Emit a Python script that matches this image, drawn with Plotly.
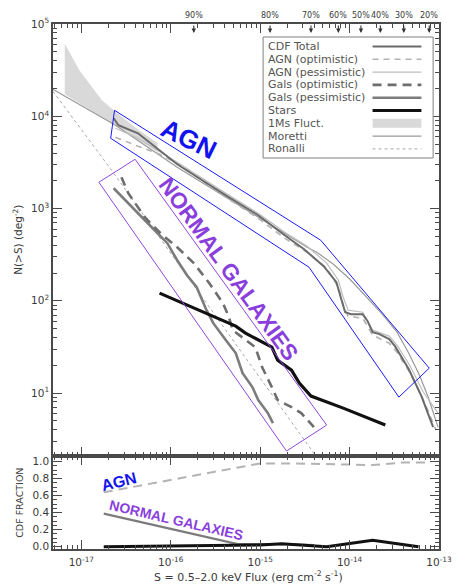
import math
import plotly.graph_objects as go

U = 1e-17  # flux arrays below are in units of 1e-17 erg cm^-2 s^-1

# ---------------- main panel: N(>S) (deg^-2) ----------------
fluct_upper_s = [0.652, 0.951, 1.32, 1.70, 2.30, 3.99, 7.12]
fluct_upper_n = [61000, 31500, 20600, 14900, 11600, 7600, 5100]
fluct_lower_s = [7.12, 2.30, 0.652]
fluct_lower_n = [4070, 8190, 17300]

moretti_s = [0.48, 2.41, 11.8, 41.4, 95.1, 188, 335, 430, 660, 1010, 1590, 2320, 3390, 4580, 6050, 7580, 9750]
moretti_n = [19600, 7990, 2800, 1325, 805, 540, 381, 336, 249, 171, 107, 71.6, 45.7, 27.1, 15.6, 9.0, 4.27]

ronalli_s = [0.482, 2.18, 11.8, 68.6, 188, 399, 453]
ronalli_n = [18660, 2600, 262, 24.5, 6.21, 2.23, 1.87]

cdf_total_s = [2.30, 2.60, 4.30, 11.8, 41.4, 95.1, 188, 310, 513, 712, 808, 893, 1040, 1400, 1590, 1810, 2150, 2770, 3220, 4580, 6360, 8600]
cdf_total_n = [9510, 7990, 6540, 3020, 1390, 846, 514, 362, 237, 159, 104, 75.2, 71.6, 71.6, 60.1, 45.7, 43.5, 38.4, 32.2, 18.2, 9.26, 4.27]

agn_opt_s = [2.41, 4.30, 7.12, 11.8, 41.4, 95.1, 188, 335, 554, 749, 849, 963, 1400, 1810, 2770, 3390, 4700, 6690, 9270]
agn_opt_n = [5920, 4730, 3970, 3100, 1325, 785, 477, 336, 226, 140, 89.6, 68.1, 64.8, 42.4, 34.7, 27.7, 16.8, 8.38, 3.96]

agn_pess_s = [2.41, 4.30, 7.12, 11.8, 41.4, 95.1, 188, 335, 554, 749, 849, 963, 1400, 1810, 2770, 3390, 4700, 6690, 9750]
agn_pess_n = [7410, 5780, 4280, 3170, 1465, 889, 553, 390, 256, 167, 109, 79.1, 75.2, 48.0, 41.4, 33.0, 20.0, 10.2, 6.06]

gals_opt_s = [2.81, 3.35, 5.13, 7.68, 11.8, 18.1, 27.0, 38.4, 44.7, 49.4, 88.2, 105, 135, 157, 224, 288, 399]
gals_opt_n = [2183, 1465, 805, 540, 381, 256, 155, 94.2, 66.4, 48.0, 31.4, 19.1, 11.6, 8.38, 7.03, 6.06, 4.27]

gals_pess_s = [2.30, 3.35, 4.64, 6.60, 9.16, 11.8, 15.2, 19.5, 25.1, 29.9, 41.4, 53.3, 63.6, 81.8, 95.1, 122, 139]
gals_pess_n = [1660, 1141, 805, 582, 421, 275, 189, 140, 79.1, 57.2, 37.4, 27.1, 16.4, 11.6, 8.38, 6.06, 4.72]

stars_s = [7.49, 12.7, 25.1, 53.3, 68.6, 135, 157, 224, 274, 370, 849, 2510]
stars_n = [121, 96.6, 73.4, 53.1, 44.6, 31.4, 22.7, 17.7, 12.8, 9.26, 6.86, 4.49]

# ---------------- lower panel: CDF fraction ----------------
frac_agn_s = [1.78, 100, 241, 1040, 1810, 3840, 8180]
frac_agn = [0.64, 0.98, 0.98, 0.97, 0.96, 0.99, 0.99]
frac_gal_s = [1.78, 56.1, 188, 399]
frac_gal = [0.39, 0.03, 0.03, 0.02]
frac_star_s = [1.78, 9.87, 100, 174, 554, 1810, 5900]
frac_star = [0.0, 0.005, 0.02, 0.035, 0.0, 0.075, 0.0]

# ---------------- top axis: completeness ----------------
pct_labels = ["90%", "80%", "70%", "60%", "50%", "40%", "30%", "20%"]
pct_s = [18.1, 129, 370, 749, 1340, 2210, 4040, 7780]

# ---------------- hand-drawn annotation boxes ----------------
agn_box_s = [2.13, 2.35, 476, 7780, 3560, 352, 2.13]
agn_box_n = [5775, 11610, 453, 18.6, 9.03, 231, 5775]
gal_box_s = [1.57, 3.99, 554, 197, 1.57]
gal_box_n = [1927, 3420, 4.49, 2.35, 1927]

x_tick_exp = [-17, -16, -15, -14, -13]
y_tick_exp = [1, 2, 3, 4, 5]
frac_ticks = [0.0, 0.2, 0.4, 0.6, 0.8, 1.0]

FONT = "DejaVu Sans"
BOLD_FONT = "Liberation Sans"
AX = "#4a4a4a"
TXT = "#3a3a3a"
W, H = 464, 584
L, R, T, B = 53, 16, 24, 35


def px_x(px):
    return (px - L) / (W - L - R)


def px_y(py):
    return (H - B - py) / (H - T - B)


def fl(arr):
    return [v * U for v in arr]


styles = {
    "CDF Total": dict(color="#6a6a6a", width=2.0, dash="solid"),
    "AGN (optimistic)": dict(color="#b3b3b3", width=1.6, dash="6px,5px"),
    "AGN (pessimistic)": dict(color="#bdbdbd", width=1.2, dash="solid"),
    "Gals (optimistic)": dict(color="#6e6e6e", width=2.6, dash="9px,6px"),
    "Gals (pessimistic)": dict(color="#7c7c7c", width=2.6, dash="solid"),
    "Stars": dict(color="#111111", width=3.2, dash="solid"),
    "Moretti": dict(color="#9a9a9a", width=1.2, dash="solid"),
    "Ronalli": dict(color="#a8a8a8", width=1.0, dash="dot"),
}
FLUCT_COLOR = "#d9d9d9"

fig = go.Figure()

# 1Ms fluctuation band
fig.add_trace(go.Scatter(
    x=fl(fluct_upper_s + fluct_lower_s), y=fluct_upper_n + fluct_lower_n,
    fill="toself", fillcolor=FLUCT_COLOR, line=dict(width=0), mode="lines",
    name="1Ms Fluct.", xaxis="x", yaxis="y", hoverinfo="skip", showlegend=False))

series = [
    ("Ronalli", ronalli_s, ronalli_n),
    ("Moretti", moretti_s, moretti_n),
    ("AGN (pessimistic)", agn_pess_s, agn_pess_n),
    ("AGN (optimistic)", agn_opt_s, agn_opt_n),
    ("CDF Total", cdf_total_s, cdf_total_n),
    ("Gals (pessimistic)", gals_pess_s, gals_pess_n),
    ("Gals (optimistic)", gals_opt_s, gals_opt_n),
    ("Stars", stars_s, stars_n),
]
for name, s, n in series:
    fig.add_trace(go.Scatter(x=fl(s), y=n, mode="lines", name=name,
                             line=styles[name], xaxis="x", yaxis="y",
                             showlegend=False))

# annotation boxes
fig.add_trace(go.Scatter(x=fl(agn_box_s), y=agn_box_n, mode="lines",
                         line=dict(color="#1a1aff", width=1), xaxis="x", yaxis="y",
                         showlegend=False, hoverinfo="skip"))
fig.add_trace(go.Scatter(x=fl(gal_box_s), y=gal_box_n, mode="lines",
                         line=dict(color="#9147e0", width=1), xaxis="x", yaxis="y",
                         showlegend=False, hoverinfo="skip"))

# lower panel
fig.add_trace(go.Scatter(x=fl(frac_agn_s), y=frac_agn, mode="lines",
                         line=dict(color="#b3b3b3", width=2, dash="9px,6px"),
                         xaxis="x2", yaxis="y2", showlegend=False))
fig.add_trace(go.Scatter(x=fl(frac_gal_s), y=frac_gal, mode="lines",
                         line=dict(color="#7c7c7c", width=2.2),
                         xaxis="x2", yaxis="y2", showlegend=False))
fig.add_trace(go.Scatter(x=fl(frac_star_s), y=frac_star, mode="lines",
                         line=dict(color="#111111", width=3),
                         xaxis="x2", yaxis="y2", showlegend=False))

xmin = 10 ** (-17 - (82 - L) / 91.5)
xmajor = [10.0 ** e for e in x_tick_exp]
xminor = [m * 10.0 ** e for e in range(-18, -13) for m in range(2, 10)]
xminor = [v for v in xminor if v > xmin]
xtext = ["10<sup>%d</sup>" % e for e in x_tick_exp]
ymajor = [10.0 ** e for e in y_tick_exp]
ytext = ["10<sup>%d</sup>" % e for e in y_tick_exp]
yminor = [m * 10.0 ** e for e in range(0, 5) for m in range(2, 10)]

common = dict(showline=True, linecolor=AX, linewidth=1.5, mirror="allticks",
              ticks="inside", ticklen=9, tickwidth=1.1, tickcolor=AX,
              showgrid=False, zeroline=False,
              tickfont=dict(family=FONT, size=10.5, color=TXT))
xr = [math.log10(xmin), -13]
fig.update_layout(
    width=W, height=H, margin=dict(l=L, r=R, t=T, b=B),
    paper_bgcolor="white", plot_bgcolor="white", showlegend=False,
    xaxis=dict(type="log", range=xr, domain=[0, 1], anchor="y",
               tickvals=xmajor, ticktext=xtext, showticklabels=False,
               minor=dict(ticks="inside", ticklen=4, tickvals=xminor, tickcolor=AX),
               **common),
    yaxis=dict(type="log", range=[0.317, 5.0005], domain=[0.1771, 1], anchor="x",
               tickvals=ymajor, ticktext=ytext,
               minor=dict(ticks="inside", ticklen=4, tickvals=yminor, tickcolor=AX),
               **common),
    xaxis2=dict(type="log", range=xr, domain=[0, 1], anchor="y2", matches="x",
                tickvals=xmajor, ticktext=xtext, ticklabelstandoff=3,
                minor=dict(ticks="inside", ticklen=4, tickvals=xminor, tickcolor=AX),
                **common),
    yaxis2=dict(range=[-0.027, 1.067], domain=[0, 0.1771], anchor="x2",
                tickvals=frac_ticks, ticktext=["%.1f" % v for v in frac_ticks],
                minor=dict(ticks="inside", ticklen=4, dtick=0.05, tickcolor=AX),
                **common),
)

annotations = []
shapes = []


def note(px, py, text, size, color=TXT, angle=0, weight="normal", xanchor="center",
         family=FONT):
    return dict(x=px_x(px), y=px_y(py), xref="paper", yref="paper", text=text,
                textangle=angle, showarrow=False, xanchor=xanchor, yanchor="middle",
                font=dict(family=family, size=size, color=color, weight=weight))


# completeness arrows on top axis
for lab, s in zip(pct_labels, pct_s):
    lx = math.log10(s * U)
    annotations.append(dict(x=lx, y=px_y(33), xref="x", yref="paper", text="",
                            showarrow=True, ax=0, ay=-9, arrowhead=2, arrowsize=0.8,
                            arrowwidth=1.1, arrowcolor="#333"))
    annotations.append(dict(x=lx, y=px_y(15), xref="x", yref="paper", text=lab,
                            showarrow=False, xanchor="center", yanchor="middle",
                            font=dict(family=FONT, size=8, color=TXT)))

# axis titles
annotations.append(note(16, 240, "N(>S) (deg<sup>-2</sup>)", 10.5, angle=-90))
annotations.append(note(18, 503, "CDF FRACTION", 9.5, angle=-90))
annotations.append(note(253, 576, "S = 0.5\u20132.0 keV Flux (erg cm<sup>-2</sup> s<sup>-1</sup>)", 11))

# coloured labels
annotations.append(note(192, 139, "AGN", 26, "#1212ee", 26, "bold", family=BOLD_FONT))
annotations.append(note(233, 269, "NORMAL GALAXIES", 22.5, "#8a3fdc", 54, "bold", family=BOLD_FONT))
annotations.append(note(121, 481, "AGN", 16, "#1212ee", -14, "bold", family=BOLD_FONT))
annotations.append(note(179, 520, "NORMAL GALAXIES", 14, "#8a3fdc", 13, "bold", family=BOLD_FONT))

# legend (text left, sample right, as in the original)
legend_order = ["CDF Total", "AGN (optimistic)", "AGN (pessimistic)", "Gals (optimistic)",
                "Gals (pessimistic)", "Stars", "1Ms Fluct.", "Moretti", "Ronalli"]
shapes.append(dict(type="rect", xref="paper", yref="paper",
                   x0=px_x(268), x1=px_x(442), y0=px_y(158), y1=px_y(37),
                   line=dict(color="#808080", width=1), fillcolor="white", layer="above"))
for i, name in enumerate(legend_order):
    ry = 46.5 + 12.8 * i
    annotations.append(note(271, ry, name, 11, "#555", xanchor="left"))
    if name == "1Ms Fluct.":
        shapes.append(dict(type="rect", xref="paper", yref="paper",
                           x0=px_x(380), x1=px_x(430), y0=px_y(ry + 4.5), y1=px_y(ry - 4.5),
                           line=dict(width=0), fillcolor=FLUCT_COLOR, layer="above"))
    else:
        st = styles[name]
        shapes.append(dict(type="line", xref="paper", yref="paper",
                           x0=px_x(380), x1=px_x(430), y0=px_y(ry), y1=px_y(ry),
                           line=dict(color=st["color"], width=st["width"], dash=st["dash"]),
                           layer="above"))

fig.update_layout(annotations=annotations, shapes=shapes)
fig.write_html("out.html", config={"displayModeBar": False},
               post_script="document.body.style.margin='0';document.body.style.overflow='hidden';")
